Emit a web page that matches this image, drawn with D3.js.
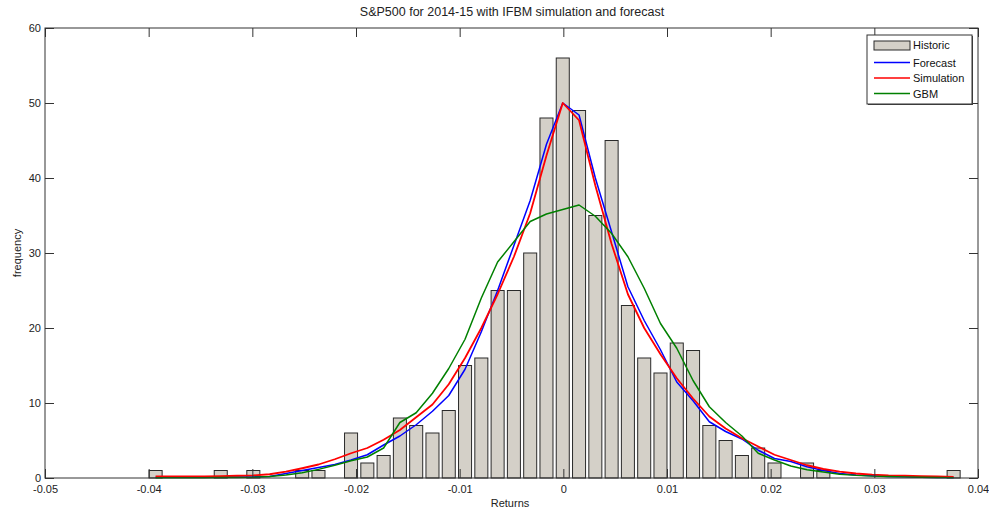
<!DOCTYPE html>
<html>
<head>
<meta charset="utf-8">
<script src="https://cdn.jsdelivr.net/npm/d3@7"></script>
<style>
  body { margin: 0; background: #fff; }
  svg { font-family: "Liberation Sans", Arial, sans-serif; font-size: 11px; }
  .tick line { stroke: #333; }
  .tick text { fill: #222; }
</style>
</head>
<body>
<svg width="989" height="510"></svg>
<script>
// histogram of daily returns, 50 bins
const binFirst = -0.03933;
const binWidth = 0.001571;
const counts = [1, 0, 0, 0, 1, 0, 1, 0, 0, 1,
  1, 0, 6, 2, 3, 8, 7, 6, 9, 15,
  16, 25, 25, 30, 48, 56, 49, 35, 45, 23,
  16, 14, 18, 17, 7, 5, 3, 4, 2, 0,
  2, 1, 0, 0, 0, 0, 0, 0, 0, 1];

// fitted curves, evaluated at the bin centres
const forecast = [0.1, 0.1, 0.1, 0.1, 0.12, 0.13, 0.15, 0.2, 0.6, 1.0,
  1.4, 1.8, 2.4, 3.1, 4.4, 5.6, 7.1, 8.9, 11.0, 14.5,
  19.5, 25.0, 31.0, 37.0, 44.5, 50.0, 48.4, 40.0, 32.8, 25.5,
  21.0, 17.1, 12.8, 10.3, 7.5, 6.2, 5.2, 3.7, 2.6, 2.2,
  1.5, 1.0, 0.6, 0.4, 0.3, 0.2, 0.15, 0.1, 0.08, 0.06];
const simulation = [0.2, 0.2, 0.2, 0.2, 0.25, 0.3, 0.35, 0.5, 0.85, 1.3,
  1.8, 2.5, 3.3, 4.0, 5.1, 6.4, 8.1, 9.8, 12.5, 16.0,
  20.0, 24.5, 29.5, 35.3, 43.0, 50.0, 47.7, 39.0, 31.2, 24.5,
  20.0, 16.5, 13.3, 10.6, 8.2, 6.6, 5.3, 4.2, 3.1, 2.4,
  1.7, 1.2, 0.85, 0.6, 0.45, 0.35, 0.3, 0.25, 0.2, 0.15];
const gbm = [0.05, 0.05, 0.05, 0.05, 0.06, 0.08, 0.1, 0.2, 0.4, 0.7,
  1.15, 1.7, 2.3, 2.8, 4.0, 7.4, 8.7, 11.3, 14.6, 18.5,
  24.0, 28.8, 31.5, 34.2, 35.2, 35.8, 36.4, 34.9, 32.6, 29.5,
  25.3, 20.6, 17.3, 13.0, 9.5, 7.4, 5.6, 3.3, 2.4, 1.6,
  1.1, 0.8, 0.5, 0.35, 0.25, 0.2, 0.15, 0.1, 0.08, 0.05];

const xTicks = [-0.05, -0.04, -0.03, -0.02, -0.01, 0, 0.01, 0.02, 0.03, 0.04];
const yTicks = [0, 10, 20, 30, 40, 50, 60];

const series = [
  { name: 'Forecast', values: forecast, color: '#0000ff', width: 1.5 },
  { name: 'Simulation', values: simulation, color: '#ff0000', width: 1.8 },
  { name: 'GBM', values: gbm, color: '#008000', width: 1.5 }
];

const svg = d3.select('svg');
const mLeft = 45, mRight = 978, mTop = 28, mBottom = 478;

const x = d3.scaleLinear().domain([-0.05, 0.04]).range([mLeft, mRight]);
const y = d3.scaleLinear().domain([0, 60]).range([mBottom, mTop]);

const centers = counts.map((c, i) => binFirst + i * binWidth);
const barW = 0.8 * (x(binWidth) - x(0));

// bars
svg.append('g').selectAll('rect')
  .data(counts)
  .join('rect')
  .attr('x', (d, i) => x(centers[i]) - barW / 2)
  .attr('y', d => y(d))
  .attr('width', barW)
  .attr('height', d => y(0) - y(d))
  .attr('fill', '#d4d0c8')
  .attr('stroke', '#2a2a2a')
  .attr('stroke-width', 1);

// curves
const line = d3.line()
  .x((d, i) => x(centers[i]))
  .y(d => y(d));

svg.append('g').selectAll('path')
  .data(series)
  .join('path')
  .attr('d', d => line(d.values))
  .attr('fill', 'none')
  .attr('stroke', d => d.color)
  .attr('stroke-width', d => d.width)
  .attr('stroke-linejoin', 'round');

// axes, ticks pointing inward on all four sides
const tickLen = 9;
svg.append('g')
  .attr('transform', `translate(0,${mBottom})`)
  .call(d3.axisBottom(x).tickValues(xTicks).tickSize(-tickLen).tickPadding(7).tickFormat(d => String(d)))
  .call(g => g.select('.domain').remove());
svg.append('g')
  .attr('transform', `translate(0,${mTop})`)
  .call(d3.axisTop(x).tickValues(xTicks).tickSize(-tickLen).tickFormat(''))
  .call(g => g.select('.domain').remove());
svg.append('g')
  .attr('transform', `translate(${mLeft},0)`)
  .call(d3.axisLeft(y).tickValues(yTicks).tickSize(-tickLen).tickPadding(4))
  .call(g => g.select('.domain').remove());
svg.append('g')
  .attr('transform', `translate(${mRight},0)`)
  .call(d3.axisRight(y).tickValues(yTicks).tickSize(-tickLen).tickFormat(''))
  .call(g => g.select('.domain').remove());

svg.selectAll('.tick text').attr('font-size', 11).attr('font-family', '"Liberation Sans", Arial, sans-serif');

svg.append('rect')
  .attr('x', mLeft).attr('y', mTop)
  .attr('width', mRight - mLeft).attr('height', mBottom - mTop)
  .attr('fill', 'none').attr('stroke', '#333');

// titles
svg.append('text')
  .attr('x', 512).attr('y', 16)
  .attr('text-anchor', 'middle').attr('fill', '#222')
  .attr('font-size', 12.5)
  .text('S&P500 for 2014-15 with IFBM simulation and forecast');
svg.append('text')
  .attr('x', 510).attr('y', 507)
  .attr('text-anchor', 'middle').attr('fill', '#222')
  .text('Returns');
svg.append('text')
  .attr('transform', `translate(21,${(mTop + mBottom) / 2}) rotate(-90)`)
  .attr('text-anchor', 'middle').attr('fill', '#222')
  .text('frequency');

// legend
const lg = svg.append('g').attr('transform', 'translate(867,35)');
lg.append('rect')
  .attr('x', 1).attr('y', 1).attr('width', 105).attr('height', 69)
  .attr('fill', '#444');
lg.append('rect')
  .attr('width', 105).attr('height', 69)
  .attr('fill', '#fff').attr('stroke', '#333');
lg.append('rect')
  .attr('x', 7).attr('y', 6).attr('width', 36).attr('height', 9)
  .attr('fill', '#d4d0c8').attr('stroke', '#2a2a2a');
lg.append('text').attr('x', 46).attr('y', 14).attr('fill', '#111').text('Historic');
series.forEach((s, i) => {
  const ly = 27.5 + i * 15.5;
  lg.append('line')
    .attr('x1', 7).attr('x2', 43).attr('y1', ly).attr('y2', ly)
    .attr('stroke', s.color).attr('stroke-width', 1.5);
  lg.append('text').attr('x', 46).attr('y', ly + 4).attr('fill', '#111').text(s.name);
});
</script>
</body>
</html>
